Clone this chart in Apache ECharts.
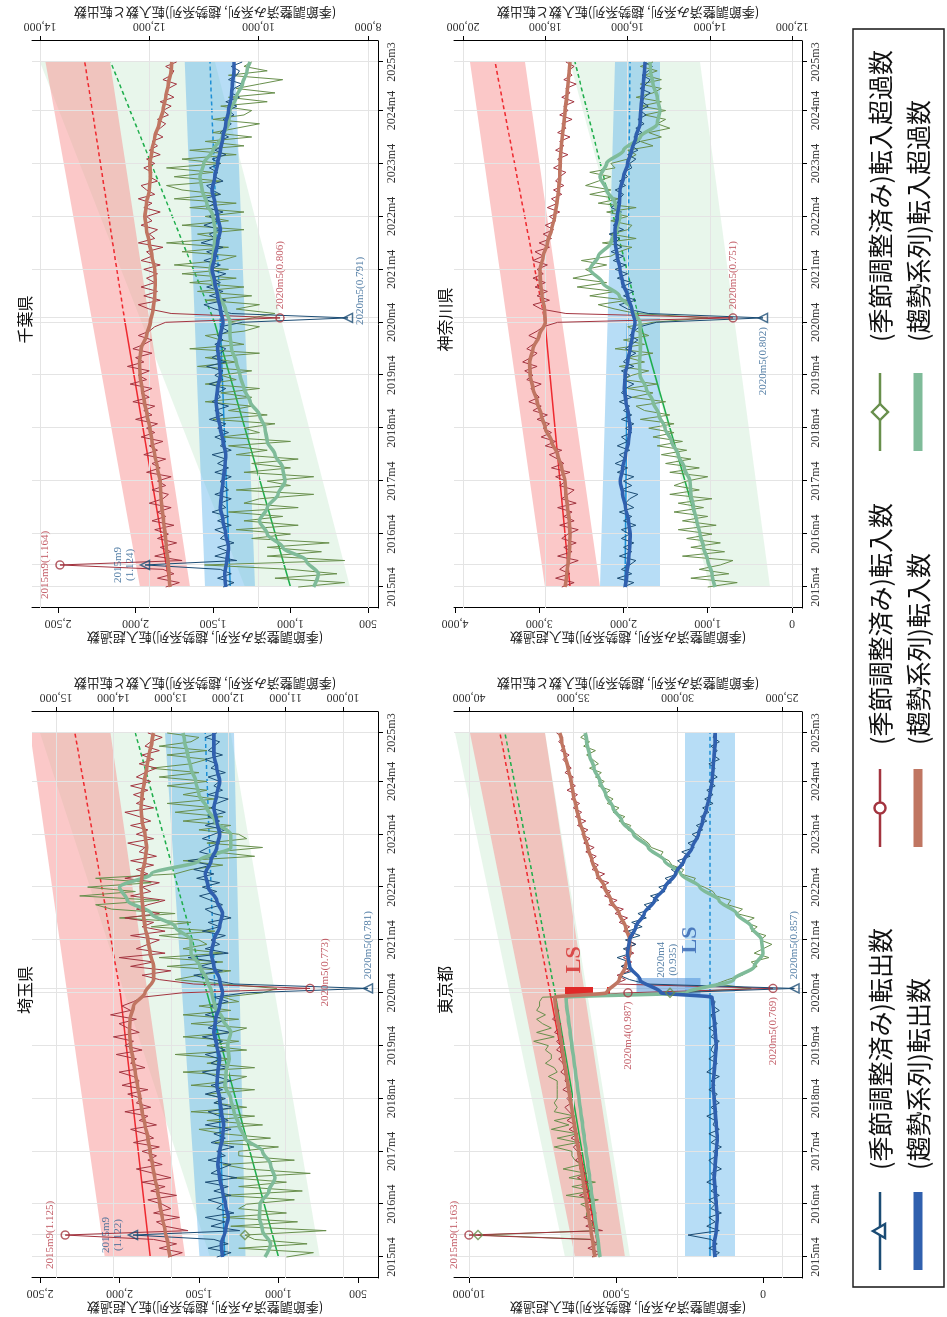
<!DOCTYPE html>
<html><head><meta charset="utf-8">
<script src="https://cdn.jsdelivr.net/npm/echarts@6/dist/echarts.min.js"></script>
<style>
html,body{margin:0;padding:0;width:947px;height:1317px;overflow:hidden;background:#fff;}
#wrap{position:absolute;left:0;top:0;width:1317px;height:947px;transform-origin:0 0;transform:translate(0px,1317px) rotate(-90deg);}
#chart{width:1317px;height:947px;}
</style></head><body><div id="wrap"><div id="chart"></div></div>
<script>
// ---------- time axis ----------
const tickIdx = [0,12,24,36,48,60,72,84,96,108,119];
const tickLabels = ['2015m4','2016m4','2017m4','2018m4','2019m4','2020m4','2021m4','2022m4','2023m4','2024m4','2025m3'];
const trIdx = [0,3,6,9,12,15,18,21,24,27,30,33,36,39,42,45,48,51,54,57,60,63,66,69,72,75,78,81,84,87,90,93,96,99,102,105,108,111,114,117,119];
const tokyoTrIdx = [0,3,6,9,12,15,18,21,24,27,30,33,36,39,42,45,48,51,54,57,59,60,63,66,69,72,75,78,81,84,87,90,93,96,99,102,105,108,111,114,117,119];

// ---------- 埼玉県 ----------
const saitamaInSA = [13050,12800,13200,12900,13300,14840,12700,13100,13250,12850,13300,13000,
13150,13400,12900,13350,13100,13500,13000,13300,13600,13150,13400,13250,
13500,13200,13650,13300,13450,13700,13250,13550,13400,13800,13350,13600,
13500,13750,13400,13850,13550,13650,13900,13450,13700,13600,13950,13500,
13800,13650,14000,13550,13750,13900,13600,14050,13700,13850,13650,13500,
12800,10575,12600,13200,13500,13000,13700,13300,13900,13100,13600,13400,
13200,13700,13100,13500,13300,13800,13200,13600,13400,13100,13700,13350,
13500,13200,13800,13400,13600,13300,13700,13250,13550,13450,13750,13300,
13600,13400,13700,13350,13550,13800,13300,13600,13450,13650,13400,13700,
13350,13600,13450,13250,13550,13300,13500,13200,13450,13350,13150,13400];
const saitamaOutSA = [12200,11950,12350,12000,12250,13660,11800,12300,12050,12400,11900,12200,
12100,12350,11950,12250,12000,12400,11850,12300,12150,11950,12350,12050,
12200,11900,12300,12050,12250,11950,12400,12000,12150,12350,11900,12250,
12050,12400,12100,12300,11950,12200,12450,12000,12300,12150,12400,12050,
12250,12100,12450,11950,12350,12200,12050,12400,12150,12300,12000,12250,
11700,9565,11900,12300,12600,12100,12500,12200,12700,12000,12400,12150,
12300,12050,12450,12150,12350,11950,12250,12400,12100,12300,12500,12200,
12450,12150,12550,12250,12600,12300,12700,12200,12500,12350,12150,12450,
12250,12050,12400,12150,12350,12050,12300,12200,12000,12350,12100,12250,
12150,12350,12050,12300,12200,12400,12100,12350,12250,12150,12400,12200];
const saitamaNetSA = [950,780,1250,820,1150,1211,700,1300,880,1350,950,1250,
1200,900,1350,850,1250,950,1300,800,1200,1350,900,1250,
1250,1000,1400,1050,1350,1500,1100,1450,1150,1550,1200,1400,
1350,1450,1150,1550,1300,1200,1600,1150,1450,1300,1650,1200,
1450,1250,1600,1300,1200,1550,1250,1600,1300,1500,1250,1350,
1100,1010,1350,1650,1500,1300,1700,1350,1750,1350,1600,1450,
1500,1750,1400,1800,1550,2000,1650,2050,2150,1750,2250,1900,
2200,1800,2150,1650,1550,1350,1600,1150,1400,1100,1450,1200,
1250,1500,1300,1600,1350,1650,1400,1700,1400,1600,1450,1700,
1450,1750,1500,1800,1550,1450,1700,1450,1750,1550,1500,1700];
const saitamaInTR = [13010,13050,13100,13150,13190,13230,13280,13320,13360,13400,13450,13500,13540,13580,13620,13660,13700,13720,13710,13650,13450,13300,13300,13360,13400,13450,13480,13500,13520,13500,13450,13420,13450,13500,13520,13500,13460,13420,13380,13330,13300];
const saitamaOutTR = [12100,12120,12050,12000,12050,12100,12150,12180,12150,12100,12080,12120,12150,12200,12180,12150,12200,12250,12220,12150,12100,12150,12250,12300,12250,12150,12100,12200,12350,12400,12300,12200,12150,12200,12250,12200,12150,12200,12250,12250,12250];
const saitamaNetTR = [1085,1050,1100,1120,1116,1060,1022,1050,1100,1211,1250,1280,1300,1337,1330,1310,1320,1300,1350,1400,1420,1450,1494,1550,1550,1650,1800,1950,2000,1800,1500,1300,1300,1400,1450,1500,1520,1550,1570,1590,1600];
const saitamaInLin = [13360,13880,14670], saitamaInBandLo = [12750,14050], saitamaInBandHi = [14150,15450];
const saitamaOutLin = [12060,12230,12400], saitamaOutBandLo = [11700,11900], saitamaOutBandHi = [12500,13100];
const saitamaNetLin = [1000,1450,1900], saitamaNetBandLo = [740,1300], saitamaNetBandHi = [1430,2500];

// ---------- 千葉県 ----------
const chibaInSA = [11700,11450,11850,11550,11750,13634,11400,11900,11600,11800,11500,11850,
11650,11900,11550,11950,11700,11850,11600,12000,11750,11650,11950,11700,
11850,11600,12050,11800,11950,11700,12100,11850,12000,11750,12150,11900,
12050,11850,12250,11950,12100,11900,12300,12000,12150,11950,12350,12050,
12200,12000,12400,12100,12250,11950,12300,12100,11950,12200,12000,11900,
11700,9608,11600,12000,12200,11800,12100,11850,12150,11900,12050,11850,
12100,11800,12150,11950,12050,11750,12200,11900,12000,11850,12150,11950,
12050,11800,12100,11950,12200,11900,12050,12150,11850,12000,11950,12100,
11900,12050,11800,12000,11850,11950,11750,11900,11800,11700,11850,11650,
11750,11600,11800,11550,11700,11650,11500,11750,11600,11550,11700,11500];
const chibaOutSA = [10650,10450,10750,10500,10700,12079,10400,10800,10550,10750,10450,10700,
10600,10800,10500,10750,10550,10850,10600,10700,10500,10800,10550,10650,
10700,10500,10800,10550,10750,10600,10850,10500,10700,10600,10800,10550,
10750,10600,10900,10650,10800,10550,10850,10700,10750,10600,10900,10650,
10800,10650,10950,10600,10850,10700,10600,10800,10650,10750,10550,10700,
10300,8364,10500,10800,11000,10600,10900,10650,10950,10700,10850,10600,
10900,10700,11000,10750,10950,10650,11050,10800,10900,10700,11000,10750,
10900,10650,10950,10800,11000,10700,10850,10950,10650,10800,10750,10900,
10700,10850,10600,10800,10650,10750,10550,10700,10600,10500,10650,10450,
10550,10400,10600,10350,10500,10450,10300,10550,10400,10350,10500,10300];
const chibaNetSA = [950,650,1100,700,1000,1555,650,1150,800,1150,750,1250,
1000,1350,950,1300,1050,1400,950,1300,1200,850,1350,1000,
1150,850,1300,1000,1250,950,1350,1150,1400,1000,1450,1200,
1300,1100,1500,1150,1400,1250,1550,1250,1450,1200,1550,1350,
1450,1250,1600,1350,1550,1200,1650,1300,1450,1550,1300,1200,
1400,1244,1100,1350,1200,1550,1250,1600,1300,1650,1350,1700,
1400,1750,1450,1350,1700,1400,1800,1450,1600,1300,1700,1400,
1550,1300,1650,1350,1750,1450,1700,1800,1450,1750,1500,1800,
1450,1700,1350,1650,1300,1550,1250,1500,1350,1200,1500,1300,
1250,1450,1150,1400,1100,1350,1200,1050,1400,1150,1300,1250];
const chibaInTR = [11620,11640,11660,11690,11710,11740,11770,11790,11800,11850,11900,11950,11990,12040,12090,12130,12170,12180,12150,12050,11980,11930,11900,11890,11900,11950,12000,12050,12080,12050,12000,11980,11990,11950,11900,11820,11750,11700,11650,11600,11590];
const chibaOutTR = [10600,10620,10580,10550,10600,10650,10700,10680,10650,10620,10600,10650,10700,10750,10780,10750,10700,10720,10750,10700,10650,10700,10750,10800,10850,10800,10750,10700,10750,10800,10850,10800,10750,10700,10650,10600,10550,10500,10480,10450,10450];
const chibaNetTR = [850,820,900,1050,1150,1200,1150,1080,1035,1050,1100,1150,1164,1200,1260,1300,1326,1350,1380,1390,1390,1420,1460,1500,1519,1500,1490,1487,1500,1540,1570,1584,1560,1500,1440,1400,1390,1350,1310,1280,1260];
const chibaInLin = [11620,12445,13180], chibaInBandLo = [11255,12720], chibaInBandHi = [12170,13900];
const chibaOutLin = [10520,10700,10890], chibaOutBandLo = [10066,10430], chibaOutBandHi = [10980,11350];
const chibaNetLin = [1000,1490,2160], chibaNetBandLo = [616,1487], chibaNetBandHi = [1293,2616];

// ---------- 東京都 ----------
const tokyoInSA = [34100,33700,34300,33800,34200,40000,33600,34400,34000,34500,33900,34300,
34400,34100,34700,34200,34600,34300,34800,34400,34700,34500,34900,34600,
34800,35000,34700,35100,34800,35200,34900,35300,35000,35200,35400,35100,
35300,35100,35500,35200,35400,35300,35600,35400,35500,35700,35400,35800,
35600,35800,35500,35900,35700,35600,36000,35800,35700,35900,35800,36000,
32378,25426,33000,32500,32900,32300,32700,32200,32600,32100,32500,32000,
32400,32100,32600,32300,32800,32400,33000,32600,33300,32900,33500,33200,
33700,33300,33900,33500,34100,33800,34200,33900,34400,34000,34500,34200,
34600,34300,34800,34400,34900,34600,35000,34700,35100,34800,35300,34900,
35200,35000,35400,35100,35300,35500,35200,35600,35400,35700,35500,35800];
const tokyoOutSA = [28300,28000,28500,28100,28400,29500,28000,28600,28200,28500,27900,28400,
28200,28500,28000,28400,28100,28600,28200,28400,27900,28300,28500,28100,
28300,27900,28400,28100,28500,28000,28300,28200,28600,28100,28400,28000,
28300,28100,28500,28200,28400,28000,28600,28300,28100,28500,28200,28400,
28300,28000,28400,28200,28500,28100,28300,28400,28000,28300,28200,28500,
30300,24400,31500,32300,32800,32100,32700,32300,32900,32200,32600,32000,
32500,31800,32400,31700,32200,31500,31900,31300,31600,30900,31300,30600,
30900,30300,30600,30000,30300,29700,30000,29400,29800,29200,29500,29000,
29300,28800,29100,28600,28900,28500,28800,28300,28700,28300,28600,28200,
28500,28100,28400,28200,28500,28000,28300,28100,28400,28000,28300,28200];
const tokyoNetSA = [5800,5700,5800,5700,5800,9694,5600,5800,5800,6000,6000,5900,
6200,5600,6700,5800,6500,5700,6600,6000,6800,6200,6400,6500,
6500,7100,6300,7000,6300,7200,6600,7100,6400,7100,7000,7100,
7000,7000,7000,7000,7000,7300,7000,7100,7400,7200,7200,7400,
7300,7800,7100,7700,7200,7500,7700,7400,7700,7600,7600,7500,
3164,400,1600,1200,700,500,200,400,-200,300,0,-300,
100,-100,400,200,600,300,900,700,1200,1100,1600,1700,
2000,2400,2300,2800,2700,3100,3200,3500,3400,3800,3900,4100,
4300,4600,4500,4900,4700,5100,4900,5300,5100,5400,5200,5600,
5400,5700,5500,5900,5600,5800,6000,5700,6100,5900,6200,6000];
const tokyoInTR = [33960,34050,34150,34250,34350,34450,34550,34650,34750,34850,34950,35050,35150,35250,35350,35450,35550,35650,35750,35850,35900,33400,32800,32500,32300,32300,32500,32800,33200,33500,33850,34100,34300,34500,34700,34850,35000,35100,35250,35400,35550,35650];
const tokyoOutTR = [28200,28250,28150,28100,28150,28200,28250,28200,28150,28100,28150,28200,28250,28300,28250,28200,28150,28200,28250,28300,28350,30800,31800,32300,32400,32300,32000,31600,31100,30600,30100,29700,29300,29000,28800,28600,28450,28350,28300,28250,28200,28200];
const tokyoNetTR = [5545,5600,5660,5720,5780,5840,5900,5960,6020,6080,6140,6200,6260,6320,6380,6440,6500,6560,6620,6680,6700,2600,1000,300,0,50,400,900,1500,2150,2800,3350,3900,4400,4800,5100,5350,5550,5750,5900,6000,6050];
const tokyoInLin = [33720,36117,38514], tokyoInBandLo = [32521,36357], tokyoInBandHi = [34918,39952];
const tokyoOutLin = [28446,28446,28446], tokyoOutBandLo = [27248,27248], tokyoOutBandHi = [29645,29645];
const tokyoNetLin = [5545,7075,8776], tokyoNetBandLo = [4524,7415], tokyoNetBandHi = [6735,10476];

// ---------- 神奈川県 ----------
const kanaInSA = [17600,17300,17750,17400,17650,17500,17200,17700,17350,17550,17250,17600,
17450,17200,17650,17300,17550,17350,17700,17250,17600,17450,17300,17650,
17500,17750,17400,17850,17550,17700,17900,17600,18000,17750,18100,17850,
18050,17900,18200,17950,18300,18100,18400,18150,18250,18350,18100,18450,
18300,18500,18200,18550,18350,18200,18450,18300,18150,18400,18200,18050,
17700,13439,17500,18100,18300,17900,18200,17950,18250,18000,18300,18050,
18200,17950,18300,18050,18250,17900,18150,17850,18050,17800,18000,17750,
17900,17650,17950,17700,17850,17600,17800,17550,17750,17650,17500,17800,
17600,17700,17450,17750,17550,17650,17400,17700,17500,17600,17350,17650,
17450,17550,17300,17600,17400,17500,17250,17550,17350,17450,17300,17500];
const kanaOutSA = [16100,15850,16250,15900,16150,15950,15800,16200,15900,16100,15850,16150,
15950,16150,15800,16100,15900,16200,15850,16050,15950,15750,16150,15900,
16100,15850,16250,16000,16300,16050,16200,15950,16250,16000,16150,15900,
16050,15850,16150,15900,16100,15950,16200,15900,16150,16050,15850,16100,
15950,16150,15850,16100,16000,15800,16050,15900,15750,15950,15850,15700,
15300,12710,15500,16000,16200,15800,16100,15850,16150,15900,16250,16000,
16300,16050,16350,16100,16400,16150,16300,16200,16450,16100,16350,16200,
16300,16150,16400,16250,16200,16100,16300,16050,16200,16000,16100,15900,
15950,15800,16000,15750,15900,15700,15850,15650,15800,15600,15750,15550,
15700,15500,15650,15600,15450,15700,15550,15450,15650,15500,15400,15600];
const kanaNetSA = [1000,650,1200,750,1100,850,700,1300,800,1200,850,1250,
950,1350,900,1300,1000,1400,1050,1350,950,1450,1100,1400,
1250,1000,1450,1100,1500,1200,1550,1250,1600,1300,1650,1400,
1700,1400,1800,1450,1750,1850,1500,1900,1650,1950,1600,2000,
1900,1700,2050,1750,1950,1650,2100,1750,2000,1700,1850,1950,
1650,1000,1850,2100,2300,1950,2400,2100,2550,2200,2600,2350,
2450,2200,2500,2150,2050,1900,2250,1850,2150,1950,1900,2150,
1950,2200,1850,2300,2050,2400,2150,2450,2300,2150,2400,2100,
2150,1950,1850,1950,1650,1800,1550,1700,1450,1600,1500,1750,
1500,1800,1550,1850,1650,1550,1800,1550,1750,1600,1800,1650];
const kanaInTR = [17520,17480,17440,17410,17400,17420,17460,17500,17520,17600,17700,17850,18000,18100,18200,18300,18370,18380,18300,18150,18000,18020,18080,18120,18130,18050,17950,17850,17770,17720,17680,17650,17640,17620,17590,17550,17520,17480,17450,17420,17400];
const kanaOutTR = [16060,16020,15980,15950,15940,15980,16050,16120,16180,16120,16050,15980,15940,15980,16040,16080,16060,16000,15940,15880,15820,15900,16000,16120,16185,16250,16300,16306,16250,16200,16185,16100,16000,15900,15800,15700,15680,15650,15620,15590,15577];
const kanaNetTR = [914,950,1000,1050,1092,1130,1170,1200,1210,1280,1350,1430,1507,1580,1650,1730,1804,1810,1800,1800,1804,1900,2050,2250,2398,2300,2150,2080,2041,2100,2200,2279,2200,2000,1800,1600,1567,1600,1650,1680,1685];
const kanaInLin = [17400,18007,19222], kanaInBandLo = [16671,18493], kanaInBandHi = [18007,19830];
const kanaOutLin = [16063,16000,15942], kanaOutBandLo = [15213,15213], kanaOutBandHi = [16671,16306];
const kanaNetLin = [914,1804,2576], kanaNetBandLo = [261,1092], kanaNetBandHi = [973,2635];

// ---------- panels ----------
const panelNames = ['埼玉県','千葉県','東京都','神奈川県'];
const netTicks = [[500,1000,1500,2000,2500],[500,1000,1500,2000,2500],[0,5000,10000],[0,1000,2000,3000,4000]];
const ioTicks = [[10000,11000,12000,13000,14000,15000],[8000,10000,12000,14000],[25000,30000,35000,40000],[12000,14000,16000,18000,20000]];
const netRange = [[374,2550],[435,2668],[-1325,10510],[-119,4012]];
const ioRange = [[9391,15418],[7815,14146],[24036,40719],[11762,20219]];

const outlierIn = [
  [{i:5,t:'2015m9(1.125)',p:'top'},{i:61,t:'2020m5(0.773)',p:'bottom',o:[16,0]}],
  [{i:5,t:'2015m9(1.164)',p:'top'},{i:61,t:'2020m5(0.806)',p:'right'}],
  [{i:5,t:'2015m9(1.163)',p:'top'},{i:60,t:'2020m4(0.987)',p:'left'},{i:61,t:'2020m5(0.769)',p:'left'}],
  [{i:61,t:'2020m5(0.751)',p:'right'}]
];
const outlierOut = [
  [{i:5,t:'2015m9\n(1.122)',p:'top'},{i:61,t:'2020m5(0.781)',p:'right'}],
  [{i:5,t:'2015m9\n(1.124)',p:'top'},{i:61,t:'2020m5(0.791)',p:'bottom',o:[27,-3]}],
  [{i:61,t:'2020m5(0.857)',p:'right'}],
  [{i:61,t:'2020m5(0.802)',p:'left'}]
];
const outlierNet = [[{i:5}],[],[{i:5},{i:60}],[]];

const P = [
  {inSA:saitamaInSA,outSA:saitamaOutSA,netSA:saitamaNetSA,inTR:saitamaInTR,outTR:saitamaOutTR,netTR:saitamaNetTR,trX:trIdx,
   inLin:saitamaInLin,inLo:saitamaInBandLo,inHi:saitamaInBandHi,outLin:saitamaOutLin,outLo:saitamaOutBandLo,outHi:saitamaOutBandHi,netLin:saitamaNetLin,netLo:saitamaNetBandLo,netHi:saitamaNetBandHi,
   grid:{left:39,top:32,width:566,height:346},titleTop:12},
  {inSA:chibaInSA,outSA:chibaOutSA,netSA:chibaNetSA,inTR:chibaInTR,outTR:chibaOutTR,netTR:chibaNetTR,trX:trIdx,
   inLin:chibaInLin,inLo:chibaInBandLo,inHi:chibaInBandHi,outLin:chibaOutLin,outLo:chibaOutBandLo,outHi:chibaOutBandHi,netLin:chibaNetLin,netLo:chibaNetBandLo,netHi:chibaNetBandHi,
   grid:{left:709,top:32,width:567,height:346},titleTop:12},
  {inSA:tokyoInSA,outSA:tokyoOutSA,netSA:tokyoNetSA,inTR:tokyoInTR,outTR:tokyoOutTR,netTR:tokyoNetTR,trX:tokyoTrIdx,
   inLin:tokyoInLin,inLo:tokyoInBandLo,inHi:tokyoInBandHi,outLin:tokyoOutLin,outLo:tokyoOutBandLo,outHi:tokyoOutBandHi,netLin:tokyoNetLin,netLo:tokyoNetBandLo,netHi:tokyoNetBandHi,
   grid:{left:39,top:454,width:566,height:348},titleTop:432},
  {inSA:kanaInSA,outSA:kanaOutSA,netSA:kanaNetSA,inTR:kanaInTR,outTR:kanaOutTR,netTR:kanaNetTR,trX:trIdx,
   inLin:kanaInLin,inLo:kanaInBandLo,inHi:kanaInBandHi,outLin:kanaOutLin,outLo:kanaOutBandLo,outHi:kanaOutBandHi,netLin:kanaNetLin,netLo:kanaNetBandLo,netHi:kanaNetBandHi,
   grid:{left:709,top:454,width:567,height:348},titleTop:432}
];

// colours
const C = {
  inSA:'#a3343f', outSA:'#1b4c74', netSA:'#688f4c',
  inTR:'#c07662', outTR:'#3060ae', netTR:'#7fbb99',
  inLin:'#ee2a30', outLin:'#1c8fd6', netLin:'#1fae4c',
  inBand:'rgba(247,145,145,0.5)', outBand:'rgba(95,180,235,0.45)', netBand:'rgba(185,228,192,0.32)',
  grid:'#e4e4e4', lblRed:'#b3323e', lblBlue:'#275d8e'
};
const serif = 'Liberation Serif';
const cjk = 'Noto Sans CJK JP';
const fmt = v => Number(v).toLocaleString('en-US');

const option = {animation:false, backgroundColor:'#fff', title:[], grid:[], xAxis:[], yAxis:[], series:[], graphic:[]};

function band(g, yi, lo, hi, color){
  return {type:'custom', xAxisIndex:g, yAxisIndex:yi, silent:true, z:1, clip:true, data:[[0,lo[0]]],
    renderItem:(params, api)=>{
      const pts=[api.coord([0,hi[0]]),api.coord([119,hi[1]]),api.coord([119,lo[1]]),api.coord([0,lo[0]])];
      return {type:'polygon', shape:{points:pts}, style:{fill:color}};
    }};
}
function linTrend(g, yi, v, color){
  return [
    {type:'line', xAxisIndex:g, yAxisIndex:yi, data:[[0,v[0]],[60,v[1]]], symbol:'none', silent:true, z:3, lineStyle:{color, width:1.5}},
    {type:'line', xAxisIndex:g, yAxisIndex:yi, data:[[60,v[1]],[119,v[2]]], symbol:'none', silent:true, z:3, lineStyle:{color, width:1.5, type:[4,3]}}
  ];
}
function saLine(g, yi, arr, color){
  return {type:'line', xAxisIndex:g, yAxisIndex:yi, data:arr.map((v,i)=>[i,v]), symbol:'none', silent:true, z:5, lineStyle:{color, width:1}};
}
function trLine(g, yi, xs, arr, color){
  return {type:'line', xAxisIndex:g, yAxisIndex:yi, data:arr.map((v,i)=>[xs[i],v]), symbol:'none', smooth:0.3, smoothMonotone:'x', silent:true, z:6, lineStyle:{color, width:3.6}};
}
function markers(g, yi, arr, pts, symbol, color, lblColor){
  return {type:'scatter', xAxisIndex:g, yAxisIndex:yi, z:8, silent:true, symbol, symbolSize:symbol==='circle'?8:9,
    itemStyle:{color:'rgba(0,0,0,0)', borderColor:color, borderWidth:1.5},
    data: pts.map(o=>({value:[o.i, arr[o.i]], label:{show:!!o.t, formatter:o.t||'', position:o.p||'top', offset:o.o||[0,0], distance:4, color:lblColor, fontFamily:serif, fontSize:11, lineHeight:12}}))};
}

P.forEach((p,g)=>{
  option.grid.push(Object.assign({containLabel:false}, p.grid));
  option.title.push({text:panelNames[g], left:p.grid.left+p.grid.width/2, top:p.titleTop, textAlign:'center',
    textStyle:{fontFamily:cjk, fontSize:16, fontWeight:'normal', color:'#111'}});
  option.xAxis.push({gridIndex:g, type:'value', min:-4.76, max:123.76,
    axisLine:{show:true, onZero:false, lineStyle:{color:'#000', width:1}},
    axisTick:{show:true, customValues:tickIdx, length:5, lineStyle:{color:'#000'}},
    axisLabel:{show:true, customValues:tickIdx, formatter:v=>tickLabels[tickIdx.indexOf(Math.round(v))]||'', fontFamily:serif, fontSize:12, color:'#333', margin:8},
    splitLine:{show:false}});
  option.yAxis.push({gridIndex:g, type:'value', position:'left', min:netRange[g][0], max:netRange[g][1],
    axisLine:{show:true, onZero:false, lineStyle:{color:'#000', width:1}},
    axisTick:{show:true, customValues:netTicks[g], length:5, lineStyle:{color:'#000'}},
    axisLabel:{show:true, customValues:netTicks[g], formatter:fmt, rotate:90, fontFamily:serif, fontSize:12, color:'#333', margin:9},
    splitLine:{show:false},
    name:'(季節調整済み系列, 趨勢系列)転入超過数', nameLocation:'middle', nameRotate:90, nameGap:23,
    nameTextStyle:{fontFamily:cjk, fontSize:13, color:'#222'}});
  option.yAxis.push({gridIndex:g, type:'value', position:'right', min:ioRange[g][0], max:ioRange[g][1],
    axisLine:{show:true, onZero:false, lineStyle:{color:'#000', width:1}},
    axisTick:{show:true, customValues:ioTicks[g], length:5, lineStyle:{color:'#000'}},
    axisLabel:{show:true, customValues:ioTicks[g], formatter:fmt, rotate:90, fontFamily:serif, fontSize:12, color:'#333', margin:9},
    splitLine:{show:false},
    name:'(季節調整済み系列, 趨勢系列)転入数と転出数', nameLocation:'middle', nameRotate:90, nameGap:22,
    nameTextStyle:{fontFamily:cjk, fontSize:13, color:'#222'}});
  const yNet = 2*g, yIO = 2*g+1;
  option.series.push({type:'line', xAxisIndex:g, yAxisIndex:yIO, data:[], z:0, silent:true,
    markLine:{silent:true, symbol:['none','none'], label:{show:false}, animation:false,
      lineStyle:{color:C.grid, width:1, type:'solid'},
      data:[...tickIdx.map(v=>({xAxis:v})), {xAxis:5},{xAxis:61}, ...ioTicks[g].map(v=>({yAxis:v}))]}});
  option.series.push(band(g,yNet,p.netLo,p.netHi,C.netBand));
  option.series.push(band(g,yIO,p.inLo,p.inHi,C.inBand));
  option.series.push(band(g,yIO,p.outLo,p.outHi,C.outBand));
  option.series.push(...linTrend(g,yNet,p.netLin,C.netLin));
  option.series.push(...linTrend(g,yIO,p.inLin,C.inLin));
  option.series.push(...linTrend(g,yIO,p.outLin,C.outLin));
  option.series.push(saLine(g,yNet,p.netSA,C.netSA));
  option.series.push(saLine(g,yIO,p.inSA,C.inSA));
  option.series.push(saLine(g,yIO,p.outSA,C.outSA));
  option.series.push(trLine(g,yNet,p.trX,p.netTR,C.netTR));
  option.series.push(trLine(g,yIO,p.trX,p.inTR,C.inTR));
  option.series.push(trLine(g,yIO,p.trX,p.outTR,C.outTR));
  option.series.push(markers(g,yIO,p.inSA,outlierIn[g],'circle',C.inSA,C.lblRed));
  option.series.push(markers(g,yIO,p.outSA,outlierOut[g],'triangle',C.outSA,C.lblBlue));
  option.series.push(markers(g,yNet,p.netSA,outlierNet[g],'diamond',C.netSA,C.netSA));
});

// Tokyo level-shift annotations
const lsIn = [[60.5,35400],[60.5,33240]];
const lsOut = [[61.5,28900],[61.5,32500]];
const lsText = [{v:[67.5,34950],t:'LS',c:'#d42a2a',s:22,w:'bold'},{v:[72,29400],t:'LS',c:'#2f62b0',s:22,w:'bold'},
                {v:[67.5,30500],t:'2020m4\n(0.935)',c:C.lblBlue,s:11,w:'normal'}];
option.series.push({type:'line', xAxisIndex:2, yAxisIndex:5, data:[], z:9, silent:true,
  markLine:{silent:true, symbol:['none','arrow'], symbolSize:[0,16], label:{show:false},
    data:[[{coord:lsIn[0], lineStyle:{color:'#e02828', width:7}},{coord:lsIn[1]}],
          [{coord:lsOut[0], lineStyle:{color:'rgba(70,140,215,0.5)', width:16}},{coord:lsOut[1]}]]}});
option.series.push({type:'scatter', xAxisIndex:2, yAxisIndex:5, z:10, silent:true, symbolSize:0,
  data:lsText.map(o=>({value:o.v, label:{show:true, formatter:o.t, position:'inside', color:o.c, fontFamily:serif, fontSize:o.s, fontWeight:o.w, lineHeight:o.s+1}}))});

// legend
const legendRow1 = [
  {x:47, tx:147, t:'(季節調整済み)転出数', c:C.outSA, sym:'tri'},
  {x:470, tx:572, t:'(季節調整済み)転入数', c:C.inSA, sym:'circ'},
  {x:866, tx:975, t:'(季節調整済み)転入超過数', c:C.netSA, sym:'dia'}
];
const legendRow2 = [
  {x:47, tx:147, t:'(趨勢系列)転出数', c:C.outTR},
  {x:470, tx:572, t:'(趨勢系列)転入数', c:C.inTR},
  {x:866, tx:975, t:'(趨勢系列)転入超過数', c:C.netTR}
];
const L = 78, y1 = 880, y2 = 918;
option.graphic.push({type:'rect', shape:{x:30, y:853, width:1258, height:91}, style:{fill:'none', stroke:'#222', lineWidth:1.6}});
legendRow1.forEach(o=>{
  option.graphic.push({type:'line', shape:{x1:o.x, y1:y1, x2:o.x+L, y2:y1}, style:{stroke:o.c, lineWidth:2.6}});
  const cx = o.x+L/2;
  if(o.sym==='circ') option.graphic.push({type:'circle', shape:{cx, cy:y1, r:5.5}, style:{fill:'#fff', stroke:o.c, lineWidth:2.4}});
  if(o.sym==='tri') option.graphic.push({type:'polygon', shape:{points:[[cx,y1-7],[cx+7,y1+5],[cx-7,y1+5]]}, style:{fill:'#fff', stroke:o.c, lineWidth:2.4}});
  if(o.sym==='dia') option.graphic.push({type:'polygon', shape:{points:[[cx,y1-8],[cx+8,y1],[cx,y1+8],[cx-8,y1]]}, style:{fill:'#fff', stroke:o.c, lineWidth:2.4}});
  option.graphic.push({type:'text', x:o.tx, y:y1, style:{text:o.t, fill:'#111', font:'25px "Noto Sans CJK JP"', textVerticalAlign:'middle'}});
});
legendRow2.forEach(o=>{
  option.graphic.push({type:'rect', shape:{x:o.x, y:y2-4.5, width:L, height:9}, style:{fill:o.c}});
  option.graphic.push({type:'text', x:o.tx, y:y2, style:{text:o.t, fill:'#111', font:'25px "Noto Sans CJK JP"', textVerticalAlign:'middle'}});
});

const chart = echarts.init(document.getElementById('chart'), null, {renderer:'canvas', width:1317, height:947});
chart.setOption(option);
</script></body></html>
